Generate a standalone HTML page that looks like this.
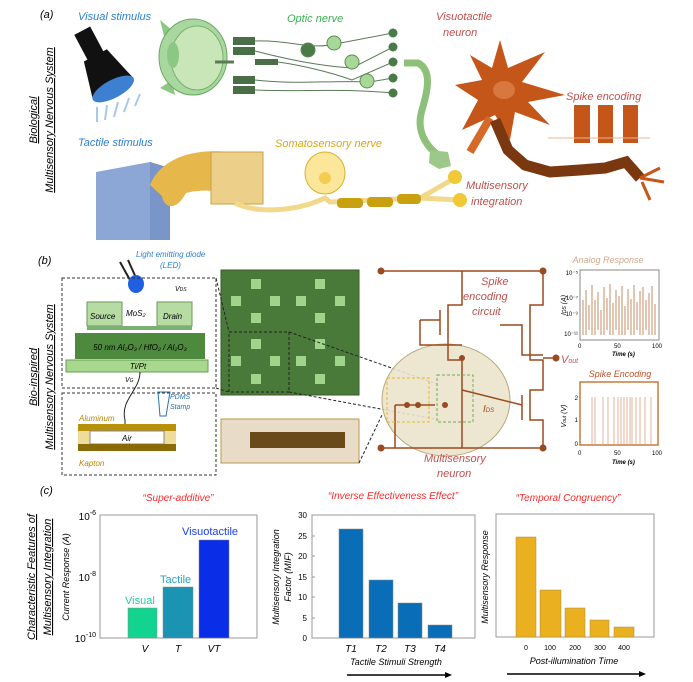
<!DOCTYPE html>
<html><head><meta charset="utf-8"><style>
html,body{margin:0;padding:0;background:#fff}
svg{display:block}
text{font-family:"Liberation Sans",sans-serif}
.it{font-style:italic}
</style></head><body>
<svg width="693" height="682" viewBox="0 0 693 682" xmlns="http://www.w3.org/2000/svg">
<!-- ===== Panel a ===== -->
<text x="40" y="18" font-size="11" class="it">(a)</text>
<g font-size="11" class="it" text-anchor="middle">
<text transform="translate(37,120) rotate(-90)" text-decoration="underline">Biological</text>
<text transform="translate(53,120) rotate(-90)" text-decoration="underline">Multisensory Nervous System</text>
</g>
<text x="78" y="20" font-size="11" class="it" fill="#2b7fd0">Visual stimulus</text>
<!-- flashlight -->
<g transform="rotate(-28 100 62)">
<rect x="90" y="26" width="18" height="30" fill="#111"/>
<path d="M86 54 L112 54 L122 92 L76 92 Z" fill="#111"/>
<ellipse cx="99" cy="92" rx="23" ry="9" fill="#3d7fd0"/>
</g>
<g stroke="#a8c8ea" stroke-width="2">
<line x1="97" y1="107" x2="97" y2="122"/><line x1="107" y1="105" x2="105" y2="120"/><line x1="118" y1="102" x2="114" y2="117"/><line x1="129" y1="98" x2="124" y2="112"/><line x1="140" y1="94" x2="135" y2="106"/>
</g>
<!-- eye -->
<path d="M160 20 L172 30 L165 40 Z M160 88 L172 80 L175 95 Z" fill="#8cc884"/>
<ellipse cx="193" cy="57" rx="34" ry="38" fill="#a8d8a0" stroke="#6aa860"/>
<ellipse cx="197" cy="58" rx="26" ry="32" fill="#c8e6b8" stroke="#7ab070"/>
<ellipse cx="173" cy="55" rx="6" ry="13" fill="#8cc884"/>
<path d="M215 62 L234 62" stroke="#5a7a58" stroke-width="3"/>
<text x="287" y="22" font-size="11" class="it" fill="#3bb052">Optic nerve</text>
<!-- retina network -->
<g fill="#4a6e48">
<rect x="233" y="37" width="22" height="8"/><rect x="233" y="47" width="22" height="8"/><rect x="233" y="76" width="22" height="8"/><rect x="233" y="86" width="22" height="8"/>
</g>
<path d="M255 62 L278 62" stroke="#4a6e48" stroke-width="6"/>
<g fill="none" stroke="#5a7a58" stroke-width="1">
<path d="M255 41 C290 40 310 50 335 44 L393 33"/><path d="M255 51 C290 60 320 66 352 68 L393 47"/><path d="M278 62 C300 65 330 72 352 80 L393 62"/><path d="M255 80 C300 85 330 80 370 82 L393 78"/><path d="M255 90 C300 92 340 88 393 93"/>
</g>
<g fill="#a8d898" stroke="#5a8a50"><circle cx="334" cy="43" r="7"/><circle cx="352" cy="62" r="7"/><circle cx="367" cy="81" r="7"/><circle cx="308" cy="50" r="7" fill="#4a7a48"/></g>
<g fill="#4a7a48"><circle cx="393" cy="33" r="4.5"/><circle cx="393" cy="47" r="4.5"/><circle cx="393" cy="62" r="4.5"/><circle cx="393" cy="78" r="4.5"/><circle cx="393" cy="93" r="4.5"/></g>
<path d="M404 63 L418 63 C432 70 428 90 422 110 C416 130 425 145 438 155" fill="none" stroke="#8ec07a" stroke-width="7"/>
<path d="M430 150 l18 2 l3 14 l-12 3 l-10 -6 z" fill="#9cc88a"/>
<!-- neuron -->
<text x="436" y="20" font-size="11" class="it" fill="#c0504d">Visuotactile</text>
<text x="443" y="36" font-size="11" class="it" fill="#c0504d">neuron</text>
<path d="M500 40 L508 68 L545 52 L522 82 L565 95 L528 102 L550 125 L515 112 L510 140 L495 115 L462 130 L478 100 L455 85 L482 80 L470 55 L492 68 Z" fill="#c5561a"/>
<ellipse cx="504" cy="90" rx="11" ry="9" fill="#d9783e"/>
<path d="M490 118 L470 152" stroke="#d56a28" stroke-width="8"/>
<path d="M495 120 L508 150 L525 165 L550 172 L580 170 L605 168 L626 162 L640 178" fill="none" stroke="#7a3810" stroke-width="11"/>
<path d="M640 178 L660 168 M642 182 L650 200 M640 178 L664 182" stroke="#c5561a" stroke-width="3"/>
<text x="566" y="100" font-size="11" class="it" fill="#c0504d">Spike encoding</text>
<g fill="#c5561a"><rect x="574" y="105" width="16" height="38"/><rect x="598" y="105" width="15" height="38"/><rect x="623" y="105" width="15" height="38"/></g>
<line x1="548" y1="138" x2="650" y2="138" stroke="#f0b090" stroke-width="1"/>
<!-- tactile -->
<text x="78" y="146" font-size="11" class="it" fill="#2b7fd0">Tactile stimulus</text>
<path d="M96 172 L150 162 L170 168 L170 240 L96 240 Z" fill="#8ca6d6"/>
<path d="M150 162 L170 168 L170 240 L150 240 Z" fill="#7a96c8"/>
<path d="M150 185 C160 160 190 148 228 152 L228 192 C210 190 196 190 186 193 C176 212 164 208 162 196 Z" fill="#e6b84c"/>
<rect x="211" y="152" width="52" height="52" fill="#ecd08a" stroke="#c8a040"/>
<text x="275" y="147" font-size="11" class="it" fill="#d8a818">Somatosensory nerve</text>
<ellipse cx="325" cy="173" rx="20" ry="21" fill="#fbe69a" stroke="#d8b030"/>
<circle cx="325" cy="178" r="6" fill="#f4cc50"/>
<path d="M235 203 C260 215 300 210 325 198 L330 202 L420 198 L455 178 M420 198 L460 200" fill="none" stroke="#f2d88a" stroke-width="5"/>
<g fill="#c9a010"><rect x="337" y="198" width="26" height="10" rx="4"/><rect x="367" y="197" width="26" height="10" rx="4"/><rect x="397" y="194" width="24" height="10" rx="4"/></g>
<circle cx="455" cy="177" r="7" fill="#f0c838"/><circle cx="460" cy="200" r="7" fill="#f0c838"/>
<text x="466" y="189" font-size="11" class="it" fill="#c0504d">Multisensory</text>
<text x="471" y="205" font-size="11" class="it" fill="#c0504d">integration</text>

<!-- ===== Panel b ===== -->
<text x="38" y="264" font-size="11" class="it">(b)</text>
<g font-size="11" class="it" text-anchor="middle">
<text transform="translate(37,377) rotate(-90)" text-decoration="underline">Bio-inspired</text>
<text transform="translate(53,377) rotate(-90)" text-decoration="underline">Multisensory Nervous System</text>
</g>
<text x="136" y="257" font-size="8" class="it" fill="#2b7fd0">Light emitting diode</text>
<text x="160" y="268" font-size="8" class="it" fill="#2b7fd0">(LED)</text>
<path d="M120 262 L130 280 M128 260 L137 280" stroke="#222" stroke-width="2"/>
<ellipse cx="136" cy="284" rx="8" ry="9" fill="#1f5fe0"/>
<rect x="62" y="278" width="154" height="110" fill="none" stroke="#333" stroke-dasharray="3,2"/>
<rect x="62" y="393" width="154" height="82" fill="none" stroke="#333" stroke-dasharray="3,2"/>
<rect x="87" y="302" width="35" height="24" fill="#b6dca4" stroke="#6a9a5a"/>
<rect x="157" y="302" width="35" height="24" fill="#b6dca4" stroke="#6a9a5a"/>
<text x="90" y="319" font-size="8" class="it">Source</text>
<text x="126" y="316" font-size="8" class="it">MoS₂</text>
<text x="163" y="319" font-size="8" class="it">Drain</text>
<text x="175" y="291" font-size="7" class="it">V<tspan font-size="5">DS</tspan></text>
<rect x="87" y="326" width="105" height="4" fill="#7ab070"/>
<rect x="75" y="333" width="130" height="26" fill="#4e8a3e"/>
<text x="140" y="350" font-size="8" class="it" text-anchor="middle">50 nm Al₂O₃ / HfO₂ / Al₂O₃</text>
<rect x="66" y="360" width="142" height="12" fill="#a8d88e" stroke="#6a9a5a"/>
<text x="138" y="369" font-size="8" class="it" text-anchor="middle">Ti/Pt</text>
<text x="125" y="382" font-size="7" class="it">V<tspan font-size="5">G</tspan></text>
<path d="M140 372 C140 390 120 400 125 420 L125 428" fill="none" stroke="#222"/>
<text x="79" y="421" font-size="8" class="it" fill="#b8860b">Aluminum</text>
<rect x="78" y="424" width="98" height="7" fill="#b8900a"/>
<rect x="78" y="431" width="12" height="13" fill="#f0dc9a"/><rect x="164" y="431" width="12" height="13" fill="#f0dc9a"/>
<rect x="90" y="431" width="74" height="13" fill="#fff" stroke="#888"/>
<text x="122" y="441" font-size="8" class="it">Air</text>
<rect x="78" y="444" width="98" height="7" fill="#8a6a08"/>
<text x="79" y="466" font-size="8" class="it" fill="#b8860b">Kapton</text>
<text x="170" y="399" font-size="7" class="it" fill="#2b6fb0">PDMS</text>
<text x="170" y="409" font-size="7" class="it" fill="#2b6fb0">Stamp</text>
<path d="M158 392 L170 392 L166 416 L160 416 Z" fill="none" stroke="#2b6fb0"/>
<!-- layout photo -->
<rect x="221" y="270" width="138" height="125" fill="#4a7a3a" stroke="#3a5a2a"/>
<g fill="#9fd48a">
<rect x="251" y="279" width="10" height="10"/><rect x="231" y="296" width="10" height="10"/><rect x="270" y="296" width="10" height="10"/><rect x="251" y="313" width="10" height="10"/>
<rect x="315" y="279" width="10" height="10"/><rect x="296" y="296" width="10" height="10"/><rect x="335" y="296" width="10" height="10"/><rect x="315" y="313" width="10" height="10"/>
<rect x="251" y="339" width="10" height="10"/><rect x="231" y="356" width="10" height="10"/><rect x="270" y="356" width="10" height="10"/><rect x="251" y="374" width="10" height="10"/>
<rect x="315" y="339" width="10" height="10"/><rect x="296" y="356" width="10" height="10"/><rect x="335" y="356" width="10" height="10"/><rect x="315" y="374" width="10" height="10"/>
</g>
<rect x="229" y="332" width="60" height="60" fill="none" stroke="#222" stroke-dasharray="3,2"/>
<rect x="221" y="419" width="138" height="44" fill="#e8dcc8" stroke="#b89a50"/>
<rect x="250" y="432" width="95" height="16" fill="#6a4a18"/>
<g stroke="#222" stroke-dasharray="3,2"><line x1="216" y1="278" x2="229" y2="332"/><line x1="216" y1="388" x2="229" y2="392"/><line x1="289" y1="332" x2="440" y2="385"/><line x1="289" y1="392" x2="440" y2="420"/><line x1="359" y1="463" x2="382" y2="415"/></g>
<!-- circuit -->
<ellipse cx="446" cy="400" rx="64" ry="56" fill="#ece4cc" stroke="#b0a070" opacity="0.9"/>
<g stroke="#9a4a20" stroke-width="1.5" fill="none">
<line x1="381" y1="271" x2="543" y2="271"/><line x1="381" y1="448" x2="543" y2="448"/>
<path d="M462 271 L462 305 L448 305 L448 360 L462 360 L462 448"/>
<path d="M420 320 L440 320 M440 310 L440 335"/>
<path d="M420 320 L420 345 L462 345"/>
<path d="M543 271 L543 305 L530 305 L530 360 L543 360 L543 390 L530 390 L530 420 L543 420 L543 448"/>
<path d="M500 325 L522 325 L522 355 L543 355"/>
<path d="M462 390 L522 405 M522 395 L522 420"/>
<path d="M395 405 L435 405 M395 448 L395 405"/>
</g>
<g fill="#9a4a20"><circle cx="381" cy="271" r="3.5"/><circle cx="543" cy="271" r="3.5"/><circle cx="381" cy="448" r="3.5"/><circle cx="543" cy="448" r="3.5"/><circle cx="462" cy="358" r="3"/><circle cx="407" cy="405" r="3"/><circle cx="418" cy="405" r="3"/><circle cx="445" cy="405" r="3"/><circle cx="556" cy="358" r="3.5"/></g>
<line x1="543" y1="358" x2="556" y2="358" stroke="#9a4a20" stroke-width="1.5"/>
<rect x="387" y="378" width="42" height="44" fill="none" stroke="#e8b830" stroke-dasharray="3,2"/>
<rect x="437" y="375" width="36" height="47" fill="none" stroke="#6ab050" stroke-dasharray="3,2"/>
<text x="481" y="285" font-size="11" class="it" fill="#c0504d">Spike</text>
<text x="463" y="300" font-size="11" class="it" fill="#c0504d">encoding</text>
<text x="472" y="315" font-size="11" class="it" fill="#c0504d">circuit</text>
<text x="561" y="363" font-size="11" class="it" fill="#c0504d" font-family="Liberation Serif">V<tspan font-size="7">out</tspan></text>
<text x="483" y="412" font-size="10" class="it" font-family="Liberation Serif" fill="#9a4a20">I<tspan font-size="6">DS</tspan></text>
<text x="424" y="462" font-size="11" class="it" fill="#c0504d">Multisensory</text>
<text x="437" y="477" font-size="11" class="it" fill="#c0504d">neuron</text>
<!-- analog plot -->
<text x="608" y="263" font-size="9" class="it" fill="#d0a890" text-anchor="middle">Analog Response</text>
<rect x="580" y="270" width="79" height="70" fill="#fff" stroke="#888"/>
<g stroke="#b87040" stroke-width="0.8">
<path d="M583 300 V335 M586 290 V335 M589 305 V330 M592 285 V335 M595 300 V335 M598 292 V330 M601 310 V335 M604 287 V335 M607 298 V330 M610 284 V335 M613 303 V335 M616 290 V330 M619 296 V335 M622 286 V335 M625 306 V335 M628 289 V330 M631 299 V335 M634 285 V335 M637 302 V330 M640 291 V335 M643 287 V335 M646 300 V330 M649 293 V335 M652 286 V335 M655 304 V335"/>
</g>
<g font-size="6" text-anchor="end"><text x="578" y="275">10⁻⁵</text><text x="578" y="300">10⁻⁷</text><text x="578" y="316">10⁻⁹</text><text x="578" y="336">10⁻¹¹</text></g>
<text transform="translate(566,305) rotate(-90)" font-size="7" class="it" text-anchor="middle">I<tspan font-size="5">DS</tspan> (A)</text>
<g font-size="6"><text x="578" y="348">0</text><text x="614" y="348">50</text><text x="652" y="348">100</text></g>
<text x="612" y="356" font-size="6" class="it" font-weight="bold">Time (s)</text>
<!-- spike plot -->
<text x="620" y="377" font-size="9" class="it" fill="#c0502a" text-anchor="middle">Spike Encoding</text>
<rect x="580" y="382" width="78" height="63" fill="#fff" stroke="#c8783a" stroke-width="1.5"/>
<g stroke="#e0a080" stroke-width="0.8"><path d="M592 397 V444 M595 397 V444 M603 397 V444 M608 397 V444 M614 397 V444 M618 397 V444 M621 397 V444 M624 397 V444 M627 397 V444 M630 397 V444 M632 397 V444 M636 397 V444 M640 397 V444 M645 397 V444 M651 397 V444"/></g>
<g font-size="6" text-anchor="end"><text x="578" y="400">2</text><text x="578" y="422">1</text><text x="578" y="446">0</text></g>
<text transform="translate(566,416) rotate(-90)" font-size="7" class="it" text-anchor="middle">V<tspan font-size="5">out</tspan> (V)</text>
<g font-size="6"><text x="578" y="455">0</text><text x="614" y="455">50</text><text x="652" y="455">100</text></g>
<text x="612" y="464" font-size="6" class="it" font-weight="bold">Time (s)</text>

<!-- ===== Panel c ===== -->
<text x="40" y="494" font-size="11" class="it">(c)</text>
<g font-size="11" class="it" text-anchor="middle">
<text transform="translate(35,577) rotate(-90)" text-decoration="underline">Characteristic Features of</text>
<text transform="translate(51,577) rotate(-90)" text-decoration="underline">Multisensory Integration</text>
</g>
<!-- chart 1 -->
<text x="178" y="501" font-size="10" class="it" fill="#ff2a2a" text-anchor="middle">“Super-additive”</text>
<rect x="100" y="515" width="157" height="123" fill="#fff" stroke="#999"/>
<rect x="128" y="608" width="29" height="30" fill="#13d48e" stroke="#888" stroke-width="0.5"/>
<rect x="163" y="587" width="30" height="51" fill="#1a94b2" stroke="#888" stroke-width="0.5"/>
<rect x="199" y="540" width="30" height="98" fill="#0a2de8" stroke="#888" stroke-width="0.5"/>
<text x="125" y="604" font-size="11" fill="#20d0a0">Visual</text>
<text x="160" y="583" font-size="11" fill="#2aa0c8">Tactile</text>
<text x="182" y="535" font-size="11" fill="#1a3ef0">Visuotactile</text>
<g font-size="10" text-anchor="end"><text x="96" y="520">10<tspan font-size="7" dy="-5">-6</tspan></text><text x="96" y="581">10<tspan font-size="7" dy="-5">-8</tspan></text><text x="96" y="642">10<tspan font-size="7" dy="-5">-10</tspan></text></g>
<text transform="translate(69,577) rotate(-90)" font-size="9" class="it" text-anchor="middle">Current Response (A)</text>
<g font-size="10" class="it" text-anchor="middle"><text x="145" y="652" font-family="Liberation Serif">V</text><text x="178" y="652" font-family="Liberation Serif">T</text><text x="214" y="652" font-family="Liberation Serif">VT</text></g>
<!-- chart 2 -->
<text x="393" y="499" font-size="10" class="it" fill="#ff2a2a" text-anchor="middle">“Inverse Effectiveness Effect”</text>
<rect x="312" y="515" width="163" height="123" fill="#fff" stroke="#999"/>
<g fill="#0a6db8" stroke="#888" stroke-width="0.5">
<rect x="339" y="529" width="24" height="109"/><rect x="369" y="580" width="24" height="58"/><rect x="398" y="603" width="24" height="35"/><rect x="428" y="625" width="24" height="13"/>
</g>
<g font-size="8" text-anchor="end"><text x="307" y="518">30</text><text x="307" y="539">25</text><text x="307" y="559">20</text><text x="307" y="580">15</text><text x="307" y="600">10</text><text x="307" y="621">5</text><text x="307" y="641">0</text></g>
<g stroke="#999"><line x1="312" y1="536" x2="315" y2="536"/><line x1="312" y1="556" x2="315" y2="556"/><line x1="312" y1="577" x2="315" y2="577"/><line x1="312" y1="597" x2="315" y2="597"/><line x1="312" y1="618" x2="315" y2="618"/></g>
<g font-size="9" class="it" text-anchor="middle"><text transform="translate(279,577) rotate(-90)">Multisensory Integration</text><text transform="translate(291,577) rotate(-90)">Factor (MIF)</text></g>
<g font-size="10" class="it" text-anchor="middle"><text x="351" y="652" font-family="Liberation Serif">T1</text><text x="381" y="652" font-family="Liberation Serif">T2</text><text x="410" y="652" font-family="Liberation Serif">T3</text><text x="440" y="652" font-family="Liberation Serif">T4</text></g>
<text x="396" y="665" font-size="9" class="it" text-anchor="middle">Tactile Stimuli Strength</text>
<line x1="347" y1="675" x2="447" y2="675" stroke="#000" stroke-width="1.5"/><path d="M452 675 L445 672 L445 678 Z"/>
<!-- chart 3 -->
<text x="568" y="501" font-size="10" class="it" fill="#ff2a2a" text-anchor="middle">“Temporal Congruency”</text>
<rect x="496" y="514" width="158" height="123" fill="#fff" stroke="#999"/>
<g fill="#ebb020" stroke="#a88a40" stroke-width="0.5">
<rect x="516" y="537" width="20" height="100"/><rect x="540" y="590" width="21" height="47"/><rect x="565" y="608" width="20" height="29"/><rect x="590" y="620" width="19" height="17"/><rect x="614" y="627" width="20" height="10"/>
</g>
<g font-size="7" text-anchor="middle"><text x="526" y="650">0</text><text x="550" y="650">100</text><text x="575" y="650">200</text><text x="600" y="650">300</text><text x="624" y="650">400</text></g>
<text transform="translate(488,577) rotate(-90)" font-size="9" class="it" text-anchor="middle">Multisensory Response</text>
<text x="574" y="664" font-size="9" class="it" text-anchor="middle">Post-illumination Time</text>
<line x1="507" y1="674" x2="640" y2="674" stroke="#000" stroke-width="1.5"/><path d="M646 674 L639 671 L639 677 Z"/>
</svg>
</body></html>
